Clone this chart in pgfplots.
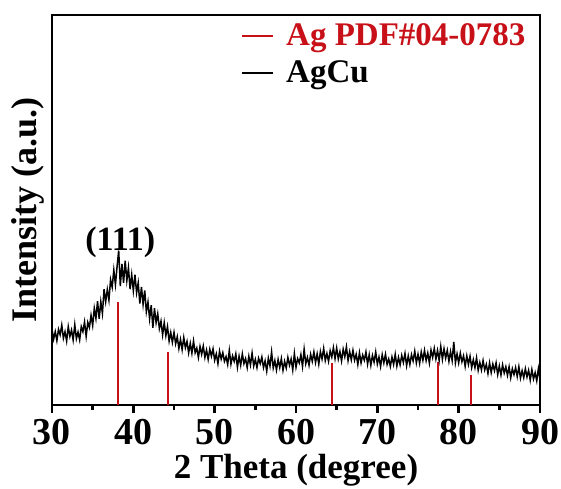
\documentclass[border=0pt]{standalone}
\usepackage{pgfplots}
\pgfplotsset{compat=1.18}
\usepackage{fontspec}
\setmainfont{Liberation Serif}
\definecolor{agred}{RGB}{200,16,24}
\begin{document}
\begin{tikzpicture}
\begin{axis}[
  name=ax,
  scale only axis,
  width=244pt, height=195pt,
  xmin=30, xmax=90, ymin=0, ymax=100,
  xtick={30,40,...,90},
  minor x tick num=1,
  ytick=\empty,
  xtick pos=left,
  tick align=outside,
  major tick length=4pt,
  minor tick length=2.5pt,
  every tick/.style={line width=1.2pt, black},
  axis line style={line width=1.3pt},
  /pgf/number format/assume math mode=true,
  xticklabel style={font=\fontsize{19}{19}\selectfont\bfseries, inner sep=0pt, yshift=-3pt},
  xlabel={2 Theta (degree)},
  xlabel style={font=\fontsize{17.5}{17.5}\selectfont\bfseries, at={(axis description cs:0.5,0)}, anchor=north, inner sep=0pt, yshift=-24.5pt},
  ylabel={Intensity (a.u.)},
  ylabel style={font=\fontsize{18}{18}\selectfont\bfseries, at={(axis description cs:-0.014,0.5)}, anchor=south, inner sep=0pt},
  legend image code/.code={\draw[#1] (0pt,0pt) -- (15.5pt,0pt);},
  legend style={draw=none, fill=none, at={(axis description cs:0.975,0.985)}, anchor=north east,
    font=\fontsize{16.5}{16.5}\selectfont\bfseries, inner sep=0pt, row sep=4pt, column sep=5pt,
    nodes={inner sep=1pt}},
  legend cell align=left,
]
\addplot[agred, line width=1pt, ycomb, forget plot] coordinates {
(38.1,26.3) (44.3,13.7) (64.4,10.7) (77.4,11.0) (81.5,7.6)};
\addlegendimage{agred, line width=1pt}
\addlegendentry{\textcolor{agred}{Ag PDF\#04-0783}}
\addplot[black, line width=0.75pt, legend image code/.code={\draw[black, line width=1pt] (0pt,0pt) -- (15.5pt,0pt);}] coordinates {
(30.0,19.4) (30.2,16.9) (30.4,18.8) (30.6,16.5) (30.8,19.4)
(31.0,18.0) (31.2,20.5) (31.4,17.1) (31.6,18.8) (31.8,16.4)
(32.0,20.1) (32.2,17.6) (32.4,19.2) (32.6,16.7) (32.8,20.6)
(33.0,17.0) (33.2,18.7) (33.4,16.7) (33.6,20.1) (33.8,18.8)
(34.0,21.3) (34.2,17.6) (34.4,21.2) (34.6,19.9) (34.8,23.0)
(35.0,20.4) (35.2,24.8) (35.4,22.2) (35.6,26.6) (35.8,22.1)
(36.0,26.5) (36.2,23.5) (36.4,29.7) (36.6,26.5) (36.8,29.6)
(37.0,26.9) (37.2,32.1) (37.4,30.2) (37.6,34.6) (37.8,30.9)
(38.0,35.5) (38.2,39.6) (38.4,30.5) (38.6,36.2) (38.8,31.3)
(39.0,37.0) (39.2,31.9) (39.4,35.2) (39.6,29.7) (39.8,33.4)
(40.0,29.3) (40.2,33.4) (40.4,28.8) (40.6,31.3) (40.8,26.0)
(41.0,30.3) (41.2,25.8) (41.4,29.4) (41.6,23.9) (41.8,26.4)
(42.0,22.1) (42.2,25.6) (42.4,19.8) (42.6,24.8) (42.8,21.1)
(43.0,23.4) (43.2,19.6) (43.4,21.5) (43.6,18.0) (43.8,21.1)
(44.0,17.8) (44.2,20.1) (44.4,16.4) (44.6,18.6) (44.8,16.1)
(45.0,18.6) (45.2,15.7) (45.4,17.5) (45.6,14.5) (45.8,16.8)
(46.0,14.2) (46.2,17.3) (46.4,14.7) (46.6,16.3) (46.8,13.4)
(47.0,15.8) (47.2,13.3) (47.4,16.4) (47.6,13.4) (47.8,14.6)
(48.0,12.2) (48.2,15.0) (48.4,13.0) (48.6,15.1) (48.8,12.2)
(49.0,14.1) (49.2,11.7) (49.4,14.3) (49.6,12.5) (49.8,14.4)
(50.0,11.5) (50.2,13.1) (50.4,10.6) (50.6,13.8) (50.8,11.8)
(51.0,13.4) (51.2,11.2) (51.4,12.4) (51.6,10.4) (51.8,14.0)
(52.0,10.5) (52.2,12.6) (52.4,11.2) (52.6,13.1) (52.8,9.7)
(53.0,12.5) (53.2,10.2) (53.4,13.1) (53.6,10.6) (53.8,11.9)
(54.0,9.6) (54.2,12.5) (54.4,10.3) (54.6,13.3) (54.8,10.0)
(55.0,11.7) (55.2,9.6) (55.4,12.0) (55.6,10.6) (55.8,12.3)
(56.0,9.6) (56.2,11.3) (56.4,8.7) (56.6,12.0) (56.8,10.0)
(57.0,13.6) (57.2,9.5) (57.4,11.4) (57.6,9.0) (57.8,11.7)
(58.0,9.6) (58.2,11.9) (58.4,8.9) (58.6,11.2) (58.8,9.5)
(59.0,12.2) (59.2,10.2) (59.4,11.8) (59.6,9.0) (59.8,13.2)
(60.0,9.7) (60.2,11.9) (60.4,10.8) (60.6,12.9) (60.8,9.9)
(61.0,14.3) (61.2,10.6) (61.4,12.2) (61.6,10.2) (61.8,13.0)
(62.0,11.2) (62.2,13.6) (62.4,10.9) (62.6,13.1) (62.8,10.5)
(63.0,13.7) (63.2,11.8) (63.4,14.5) (63.6,11.4) (63.8,13.2)
(64.0,11.2) (64.2,13.9) (64.4,12.3) (64.6,14.7) (64.8,11.9)
(65.0,14.6) (65.2,11.8) (65.4,13.7) (65.6,11.3) (65.8,14.3)
(66.0,12.4) (66.2,14.9) (66.4,11.4) (66.6,13.7) (66.8,11.6)
(67.0,14.0) (67.2,11.5) (67.4,13.0) (67.6,10.4) (67.8,13.4)
(68.0,10.8) (68.2,12.8) (68.4,11.5) (68.6,13.6) (68.8,10.5)
(69.0,12.9) (69.2,10.2) (69.4,12.7) (69.6,11.0) (69.8,13.6)
(70.0,10.5) (70.2,12.3) (70.4,9.9) (70.6,12.9) (70.8,10.8)
(71.0,13.0) (71.2,10.4) (71.4,11.8) (71.6,9.9) (71.8,12.3)
(72.0,10.4) (72.2,13.0) (72.4,10.0) (72.6,12.2) (72.8,10.3)
(73.0,12.7) (73.2,10.9) (73.4,13.2) (73.6,10.1) (73.8,12.6)
(74.0,10.4) (74.2,12.9) (74.4,11.3) (74.6,13.8) (74.8,10.8)
(75.0,13.0) (75.2,10.7) (75.4,13.6) (75.6,11.5) (75.8,14.0)
(76.0,11.4) (76.2,13.3) (76.4,10.8) (76.6,14.1) (76.8,12.2)
(77.0,14.5) (77.2,11.8) (77.4,14.0) (77.6,11.4) (77.8,15.0)
(78.0,11.7) (78.2,14.4) (78.4,12.0) (78.6,14.0) (78.8,11.2)
(79.0,13.7) (79.2,11.4) (79.4,16.2) (79.6,10.8) (79.8,13.1)
(80.0,10.8) (80.2,13.3) (80.4,11.1) (80.6,12.6) (80.8,9.9)
(81.0,12.6) (81.2,10.4) (81.4,12.5) (81.6,9.6) (81.8,11.6)
(82.0,9.6) (82.2,12.1) (82.4,8.9) (82.6,10.9) (82.8,9.0)
(83.0,11.4) (83.2,9.0) (83.4,10.4) (83.6,8.1) (83.8,10.8)
(84.0,8.3) (84.2,10.5) (84.4,8.8) (84.6,10.8) (84.8,7.8)
(85.0,10.0) (85.2,7.7) (85.4,10.3) (85.6,8.2) (85.8,9.8)
(86.0,7.6) (86.2,9.8) (86.4,7.0) (86.6,9.3) (86.8,7.8)
(87.0,9.6) (87.2,7.3) (87.4,9.8) (87.6,6.9) (87.8,8.8)
(88.0,7.0) (88.2,9.3) (88.4,7.2) (88.6,8.9) (88.8,6.4)
(89.0,9.1) (89.2,6.7) (89.4,8.3) (89.6,6.2) (89.8,9.3)
(90.0,6.6)};
\addlegendentry{AgCu}
\node[font=\fontsize{17}{17}\selectfont\bfseries, inner sep=0pt] at (axis cs:38.4,41.8) {(111)};
\end{axis}
\pgfresetboundingbox
\path ([shift={(-26pt,-41.5pt)}]ax.south west) rectangle ([shift={(254.5pt,202.5pt)}]ax.south west);
\end{tikzpicture}
\end{document}
